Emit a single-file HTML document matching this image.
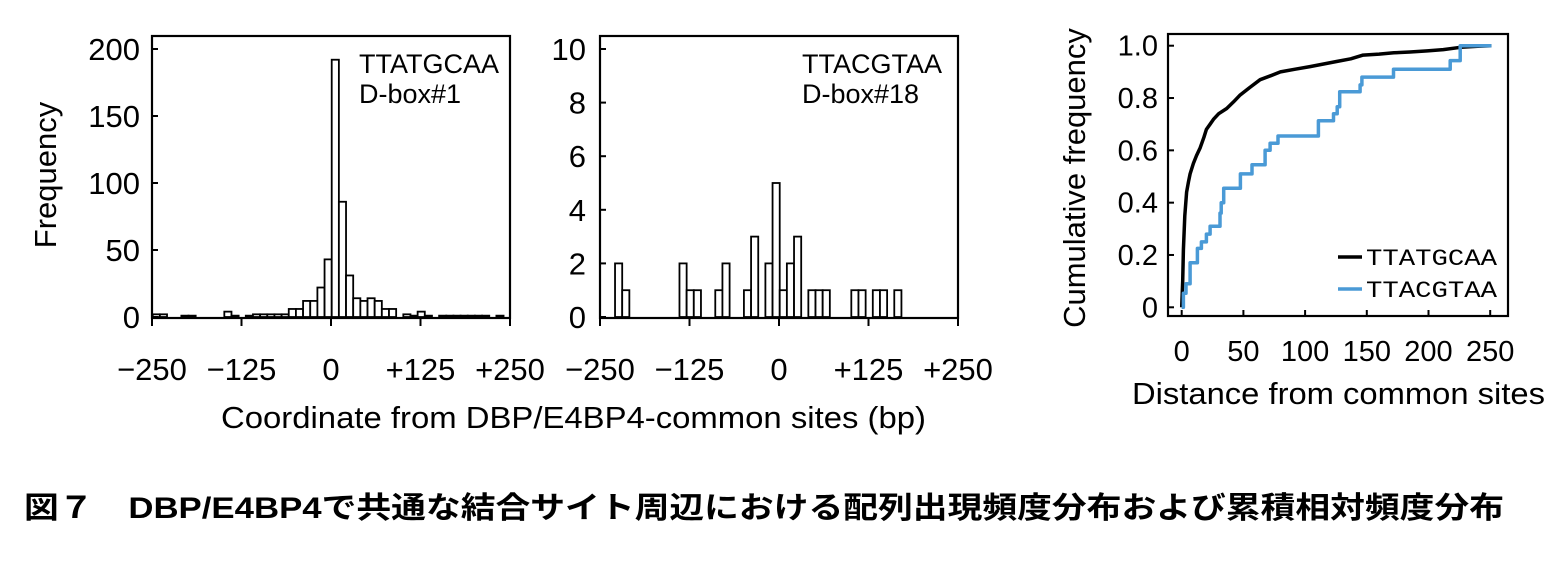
<!DOCTYPE html>
<html><head><meta charset="utf-8"><style>
body{margin:0;background:#fff;width:1564px;height:567px;overflow:hidden}
svg{display:block}
text{font-family:"Liberation Sans","Noto Sans CJK JP",sans-serif;fill:#000}
</style></head><body>
<svg id="fig" width="1564" height="567" viewBox="0 0 1564 567" xmlns="http://www.w3.org/2000/svg">
<g id="p1"></g>
<g id="p2"></g>
<g id="p3"></g>
<text x="221" y="428" font-size="31" textLength="705" lengthAdjust="spacingAndGlyphs">Coordinate from DBP/E4BP4-common sites (bp)</text>
<text x="24" y="518" font-size="30" font-weight="bold" textLength="1480" lengthAdjust="spacingAndGlyphs">図７　DBP/E4BP4で共通な結合サイト周辺における配列出現頻度分布および累積相対頻度分布</text>
</svg>
<script>
// Histogram 1 (TTATGCAA): 50 bins of 10 bp from -250
const h1Counts=[2,2,0,0,1,1,0,0,0,0,4,1,0,1,2,2,2,2,2,6,6,12,12,22,43,192,86,31,14,12,14,12,6,6,0,2,1,4,1,0,1,1,1,1,1,1,1,0,1,0];
const h1Ticks=[-250,-125,0,125,250];
const h1TickLabels=["\u2212250","\u2212125","0","+125","+250"];
const h1YTicks=[0,50,100,150,200];
// Histogram 2 (TTACGTAA): bin starts (bp) and counts
const h2Starts=[-230,-220,-140,-130,-120,-90,-80,-50,-40,-20,-10,0,10,20,40,50,60,100,110,130,140,160];
const h2Counts=[2,1,2,1,1,1,2,1,3,2,5,1,2,3,1,1,1,1,1,1,1,1];
const h2YTicks=[0,2,4,6,8,10];
// Cumulative
const blackX=[0,0.8,1.4,2.5,4,5.5,6.8,9.5,12,15,18,20,23,26,30,36.5,42,47,55,63.5,72,80,92,104,115,126,137,147,160,172,185,199,212,226,240,251];
const blackY=[0,0.1,0.22,0.35,0.44,0.48,0.51,0.55,0.58,0.61,0.65,0.68,0.70,0.72,0.74,0.76,0.785,0.81,0.84,0.87,0.885,0.90,0.91,0.92,0.93,0.94,0.95,0.964,0.968,0.973,0.976,0.98,0.985,0.994,0.998,1.0];
const blueX=[0,1.4,3.5,6.8,12.7,16,20,23,31,32,34,47.6,57,67.6,71.6,78,110.8,123,126,128,144.6,146,171.6,217.6,225.7,251];
const blueY=[0,0.054,0.09,0.17,0.225,0.25,0.28,0.31,0.36,0.40,0.455,0.51,0.545,0.6,0.627,0.655,0.713,0.74,0.767,0.824,0.85,0.88,0.91,0.943,1.0,1.0];
const cTicksX=[0,50,100,150,200,250];
const cTicksY=[0,0.2,0.4,0.6,0.8,1.0];
const cTickYLabels=["0","0.2","0.4","0.6","0.8","1.0"];

const NS="http://www.w3.org/2000/svg";
function mk(tag,attrs,parent,txt){const e=document.createElementNS(NS,tag);for(const k in attrs)e.setAttribute(k,attrs[k]);if(txt!==undefined)e.textContent=txt;parent.appendChild(e);return e;}

function frame(g,x0,y0,x1,y1){const r=mk('rect',{x:x0,y:y0,width:x1-x0,height:y1-y0,fill:'none',stroke:'#000','stroke-width':2.2},g);

}

// Panel 1
(function(){
const g=document.getElementById('p1');
const X0=152,X1=510,Yt=36,Yb=318;
const sx=v=>X0+(v+250)/500*(X1-X0);
const sy=v=>317-v/200*268;
frame(g,X0,Yt,X1,Yb);
h1Counts.forEach((c,i)=>{if(c<=0)return;const a=sx(-249+i*10),b=sx(-239+i*10);
const r=mk('rect',{x:a,y:sy(c),width:b-a,height:317-sy(c),fill:'#fff',stroke:'#000','stroke-width':1.8},g);

});
h1YTicks.forEach(v=>{mk('line',{x1:X0,x2:X0+6,y1:sy(v),y2:sy(v),stroke:'#000','stroke-width':2},g);
const t=mk('text',{x:140,y:sy(v)+11,'font-size':31,'text-anchor':'end'},g,String(v));

});
h1Ticks.forEach((v,i)=>{mk('line',{x1:sx(v),x2:sx(v),y1:Yb,y2:Yb+8,stroke:'#000','stroke-width':2},g);
const t=mk('text',{x:sx(v),y:380,'font-size':31,'text-anchor':'middle'},g,h1TickLabels[i]);

});
const yt=mk('text',{x:0,y:0,'font-size':31,'text-anchor':'middle',transform:'translate(56,175) rotate(-90)'},g,'Frequency');


const l1=mk('text',{x:359,y:73,'font-size':27},g,'TTATGCAA');


const l2=mk('text',{x:359,y:103,'font-size':27},g,'D-box#1');


})();

// Panel 2
(function(){
const g=document.getElementById('p2');
const X0=600,X1=958,Yt=36,Yb=318;
const sx=v=>X0+(v+250)/500*(X1-X0);
const sy=v=>317-v/10*268;
frame(g,X0,Yt,X1,Yb);
h2Starts.forEach((s,i)=>{const c=h2Counts[i];const a=sx(s+1),b=sx(s+11);
const r=mk('rect',{x:a,y:sy(c),width:b-a,height:317-sy(c),fill:'#fff',stroke:'#000','stroke-width':1.8},g);

});
h2YTicks.forEach(v=>{mk('line',{x1:X0,x2:X0+6,y1:sy(v),y2:sy(v),stroke:'#000','stroke-width':2},g);
const t=mk('text',{x:586,y:sy(v)+11,'font-size':31,'text-anchor':'end'},g,String(v));

});
h1Ticks.forEach((v,i)=>{mk('line',{x1:sx(v),x2:sx(v),y1:Yb,y2:Yb+8,stroke:'#000','stroke-width':2},g);
const t=mk('text',{x:sx(v),y:380,'font-size':31,'text-anchor':'middle'},g,h1TickLabels[i]);

});
const l1=mk('text',{x:802,y:73,'font-size':27},g,'TTACGTAA');


const l2=mk('text',{x:802,y:103,'font-size':27},g,'D-box#18');


})();

// Panel 3
(function(){
const g=document.getElementById('p3');
const X0=1168,X1=1508,Yt=34,Yb=316;
const sx=v=>1181.7+v/50*61.7;
const sy=v=>307.3-v*261.6;
frame(g,X0,Yt,X1,Yb);
cTicksY.forEach((v,i)=>{mk('line',{x1:X0,x2:X0+6,y1:sy(v),y2:sy(v),stroke:'#000','stroke-width':2},g);
const t=mk('text',{x:1158,y:sy(v)+10,'font-size':29,'text-anchor':'end'},g,cTickYLabels[i]);

});
cTicksX.forEach(v=>{mk('line',{x1:sx(v),x2:sx(v),y1:Yb,y2:Yb-6,stroke:'#000','stroke-width':2},g);
const t=mk('text',{x:sx(v),y:361,'font-size':29,'text-anchor':'middle'},g,String(v));

});
let d='';blackX.forEach((x,i)=>{d+=(i?'L':'M')+sx(x).toFixed(1)+','+sy(blackY[i]).toFixed(1);});
const pb=mk('path',{d:d,fill:'none',stroke:'#000','stroke-width':3.5,'stroke-linejoin':'round'},g);


let d2='';blueX.forEach((x,i)=>{if(i===0)d2+='M'+sx(x).toFixed(1)+','+sy(blueY[i]).toFixed(1);else d2+='L'+sx(x).toFixed(1)+','+sy(blueY[i-1]).toFixed(1)+'L'+sx(x).toFixed(1)+','+sy(blueY[i]).toFixed(1);});
const pl=mk('path',{d:d2,fill:'none',stroke:'#4a9ad6','stroke-width':3.5,'stroke-linejoin':'round'},g);


mk('line',{x1:1338,x2:1362,y1:257,y2:257,stroke:'#000','stroke-width':3.5},g);
mk('line',{x1:1338,x2:1362,y1:289,y2:289,stroke:'#4a9ad6','stroke-width':3.5},g);
const a=mk('text',{x:1366,y:265,'font-size':23,textLength:131,lengthAdjust:'spacingAndGlyphs',style:'font-family:"Liberation Mono",monospace'},g,'TTATGCAA');


const b=mk('text',{x:1366,y:297,'font-size':23,textLength:131,lengthAdjust:'spacingAndGlyphs',style:'font-family:"Liberation Mono",monospace'},g,'TTACGTAA');


const yt=mk('text',{x:0,y:0,'font-size':31,'text-anchor':'middle',transform:'translate(1085,178) rotate(-90)'},g,'Cumulative frequency');


const xt=mk('text',{x:1132,y:404,'font-size':31,textLength:413,lengthAdjust:'spacingAndGlyphs'},g,'Distance from common sites');


})();
</script>
</body></html>
